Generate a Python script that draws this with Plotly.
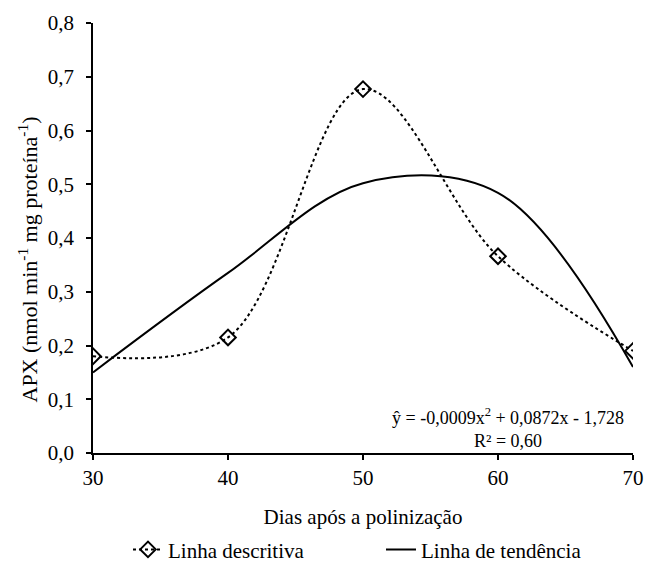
import plotly.graph_objects as go

dias = [30, 40, 50, 60, 70]
apx_descritiva = [0.180, 0.215, 0.677, 0.366, 0.190]
apx_tendencia = [0.150, 0.335, 0.502, 0.484, 0.160]

x_ticks = [30, 40, 50, 60, 70]
y_ticks = [0.0, 0.1, 0.2, 0.3, 0.4, 0.5, 0.6, 0.7, 0.8]

FONT = "Times New Roman, Liberation Serif, serif"
FS = 21

fig = go.Figure()
fig.add_trace(go.Scatter(
    x=dias, y=apx_descritiva, name="Linha descritiva",
    mode="lines+markers",
    line=dict(color="black", width=2, dash="dot", shape="spline", smoothing=1),
    marker=dict(symbol="diamond-open", size=12, color="black", line=dict(width=2, color="black")),
))
fig.add_trace(go.Scatter(
    x=dias, y=apx_tendencia, name="Linha de tendência",
    mode="lines",
    line=dict(color="black", width=2, shape="spline", smoothing=1),
))

fig.add_annotation(
    x=(508 - 93) / 540, y=0.0, xref="paper", yref="paper", xanchor="center", yanchor="bottom",
    text="ŷ = -0,0009x<sup>2</sup> + 0,0872x - 1,728<br>R² = 0,60",
    showarrow=False, align="center", font=dict(family=FONT, size=18, color="black"),
    yshift=0,
)
fig.add_annotation(
    x=(27 - 93) / 540, y=0.45, xref="paper", yref="paper", xanchor="center", yanchor="middle",
    text="APX (nmol min<sup>-1</sup> mg proteína<sup>-1</sup>)", textangle=-90,
    showarrow=False, font=dict(family=FONT, size=22, color="black"),
)

fig.update_layout(
    width=645, height=566,
    margin=dict(l=93, r=12, t=23, b=113, autoexpand=False),
    paper_bgcolor="white", plot_bgcolor="white",
    separators=",.",
    font=dict(family=FONT, size=FS, color="black"),
    showlegend=True,
    legend=dict(orientation="h", x=(128 - 93) / 540, xanchor="left", y=-0.225, yanchor="middle",
                font=dict(family=FONT, size=FS), entrywidth=208, tracegroupgap=0),
)
fig.update_xaxes(
    range=[30, 70], tickvals=x_ticks, showline=True, linecolor="black", linewidth=1.5,
    ticks="outside", ticklen=5, tickcolor="black", tickwidth=1.5, showgrid=False, zeroline=False,
    title=dict(text="Dias após a polinização", font=dict(family=FONT, size=FS), standoff=20),
    tickfont=dict(family=FONT, size=FS),
)
fig.update_yaxes(
    range=[0, 0.8], tickvals=y_ticks, tickformat=".1f", showline=True, linecolor="black", linewidth=1.5,
    ticks="outside", ticklen=5, tickcolor="black", tickwidth=1.5, showgrid=False, zeroline=False,
    tickfont=dict(family=FONT, size=FS), ticklabelstandoff=8,
)

fig.write_html("out.html")
